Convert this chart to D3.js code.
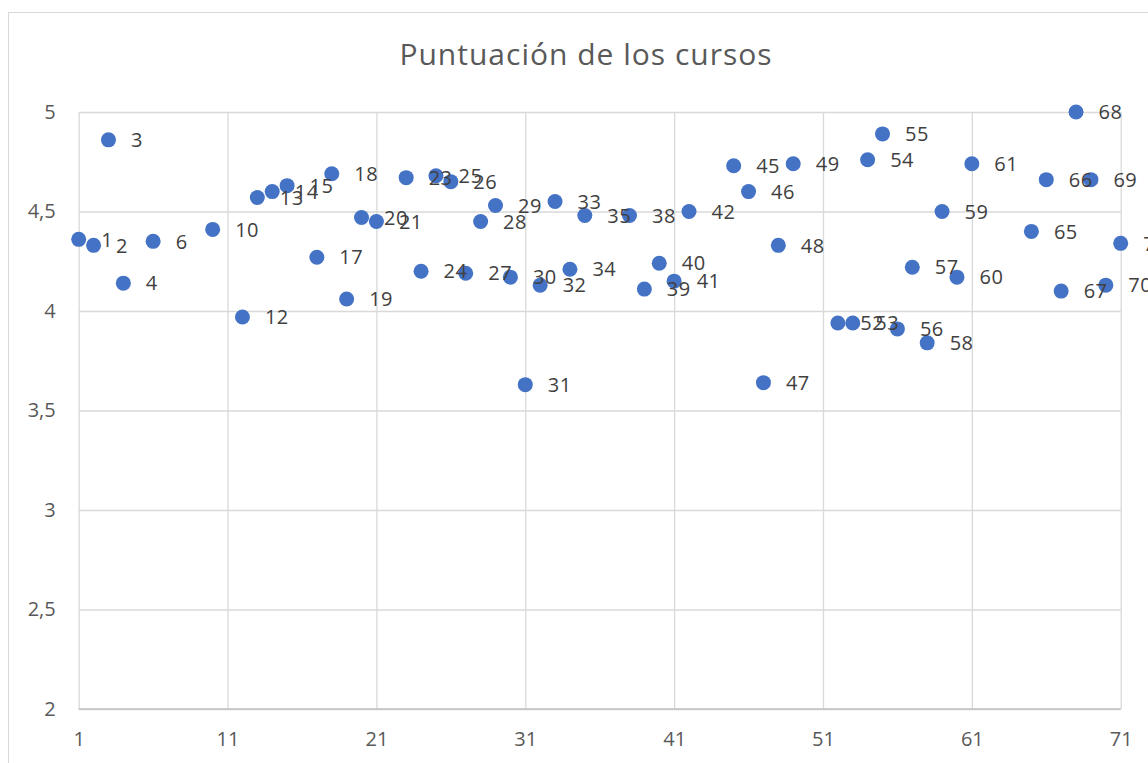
<!DOCTYPE html>
<html>
<head>
<meta charset="utf-8">
<script src="https://cdn.jsdelivr.net/npm/d3@7"></script>
<style>
  html, body { margin: 0; padding: 0; background: #fff; }
  svg { display: block; }
</style>
</head>
<body>
<script>
const title = "Puntuación de los cursos";
const courses = [1,2,3,4,6,10,12,13,14,15,17,18,19,20,21,23,24,25,26,27,28,29,30,31,32,33,34,35,38,39,40,41,42,45,46,47,48,49,52,53,54,55,56,57,58,59,60,61,65,66,67,68,69,70,71];
const scores  = [4.36,4.33,4.86,4.14,4.35,4.41,3.97,4.57,4.60,4.63,4.27,4.69,4.06,4.47,4.45,4.67,4.20,4.68,4.65,4.19,4.45,4.53,4.17,3.63,4.13,4.55,4.21,4.48,4.48,4.11,4.24,4.15,4.50,4.73,4.60,3.64,4.33,4.74,3.94,3.94,4.76,4.89,3.91,4.22,3.84,4.50,4.17,4.74,4.40,4.66,4.10,5.00,4.66,4.13,4.34];
const xTicks = [1,11,21,31,41,51,61,71];
const yTicks = [2,2.5,3,3.5,4,4.5,5];

const W = 1148, H = 763;
const svg = d3.select("body").append("svg").attr("width", W).attr("height", H);
const font = "'Open Sans', 'Noto Sans', sans-serif";

// chart border
svg.append("rect").attr("x", 8.5).attr("y", 12.5).attr("width", 1160).attr("height", 800)
  .attr("fill", "#fff").attr("stroke", "#d9d9d9").attr("stroke-width", 1);

const L = 78.7, R = 1120.7, T = 112, B = 709;
const x = d3.scaleLinear().domain([1, 71]).range([L, R]);
const y = d3.scaleLinear().domain([2, 5]).range([B, T]);

// title
svg.append("text").attr("x", 586).attr("y", 65)
  .attr("text-anchor", "middle").attr("font-family", font).attr("font-size", 30)
  .attr("letter-spacing", 1)
  .attr("fill", "#595959").text(title);

// y axis with gridlines
const yAxis = svg.append("g").attr("transform", `translate(${L},0)`)
  .call(d3.axisLeft(y).tickValues(yTicks).tickSize(-(R - L)).tickPadding(23)
    .tickFormat(d => String(d).replace(".", ",")));
yAxis.select(".domain").remove();
yAxis.selectAll("line").attr("stroke", "#d9d9d9").attr("stroke-width", 1.3);
yAxis.selectAll("text").attr("font-family", font).attr("font-size", 20).attr("fill", "#595959");

// x axis with gridlines
const xAxis = svg.append("g").attr("transform", `translate(0,${B})`)
  .call(d3.axisBottom(x).tickValues(xTicks).tickSize(-(B - T)).tickPadding(23)
    .tickFormat(d3.format("d")));
xAxis.select(".domain").remove();
xAxis.selectAll("line").attr("stroke", "#d9d9d9").attr("stroke-width", 1.3);
xAxis.selectAll("text").attr("font-family", font).attr("font-size", 20).attr("fill", "#595959");

// baseline (darker)
svg.append("line").attr("x1", L).attr("x2", R).attr("y1", B).attr("y2", B)
  .attr("stroke", "#bfbfbf").attr("stroke-width", 1.5);

const data = courses.map((c, i) => ({ c, s: scores[i] }));

// points
svg.append("g").selectAll("circle").data(data).join("circle")
  .attr("cx", d => x(d.c)).attr("cy", d => y(d.s)).attr("r", 7.5)
  .attr("fill", "#4472C4");

// labels
svg.append("g").selectAll("text").data(data).join("text")
  .attr("x", d => x(d.c) + 22.5).attr("y", d => y(d.s)).attr("dy", "0.36em")
  .attr("font-family", font).attr("font-size", 20).attr("letter-spacing", 0.5)
  .attr("fill", "#404040")
  .text(d => d.c);
</script>
</body>
</html>
